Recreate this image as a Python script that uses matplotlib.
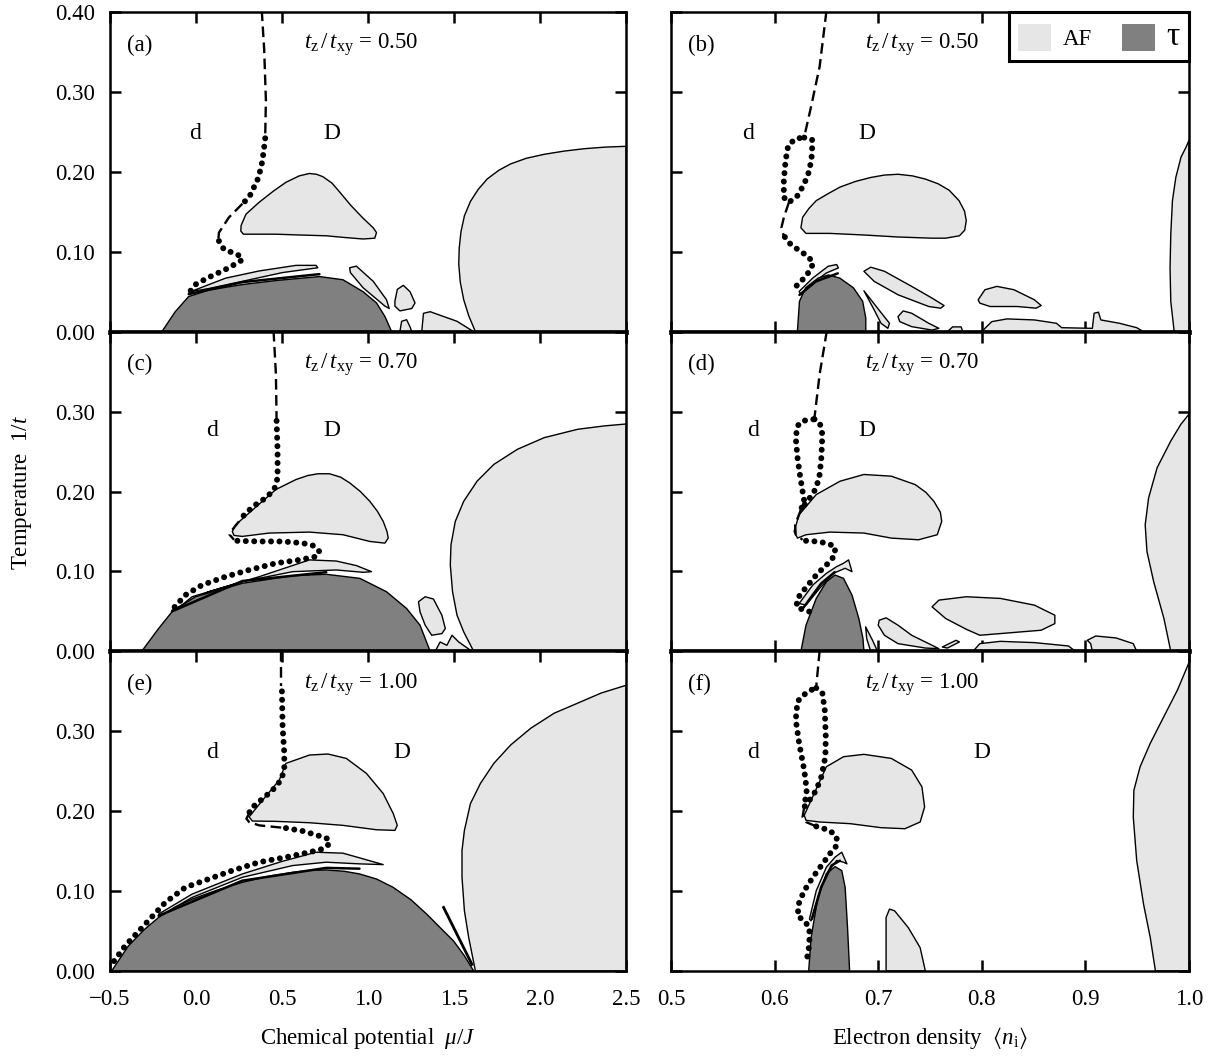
import matplotlib
matplotlib.use("Agg")
import matplotlib.pyplot as plt
from matplotlib.patches import Patch, Polygon

plt.rcParams["font.family"] = ["Liberation Serif", "DejaVu Serif", "DejaVu Sans"]
plt.rcParams["mathtext.fontset"] = "custom"
plt.rcParams["mathtext.rm"] = "Liberation Serif"
plt.rcParams["mathtext.it"] = "Liberation Serif:italic"
plt.rcParams["mathtext.fallback"] = "stix"
plt.rcParams["font.size"] = 16

AF_COLOR = "#e6e6e6"
TAU_COLOR = "#808080"

RATIOS = ["0.50", "0.70", "1.00"]
LETTERS = ["a", "b", "c", "d", "e", "f"]
Y_TICKS = [0.0, 0.1, 0.2, 0.3, 0.4]
MU_TICKS = [-0.5, 0.0, 0.5, 1.0, 1.5, 2.0, 2.5]
N_TICKS = [0.5, 0.6, 0.7, 0.8, 0.9, 1.0]

# ---- panel (a): chemical potential, tz/txy = 0.50 ----
A_TAU = [(-0.199, 0), (-0.121, 0.025), (-0.043, 0.044), (0.074, 0.052), (0.269, 0.059),
         (0.464, 0.064), (0.717, 0.069), (0.854, 0.065), (0.971, 0.050), (1.049, 0.036),
         (1.098, 0.019), (1.137, 0)]
A_EDGE = [(-0.043, 0.047), (0.269, 0.062), (0.717, 0.072)]
A_AF = [
    [(-0.033, 0.050), (0.172, 0.067), (0.367, 0.076), (0.581, 0.083), (0.698, 0.083),
     (0.708, 0.080), (0.503, 0.074), (0.269, 0.063), (0.074, 0.054)],
    [(0.260, 0.126), (0.262, 0.133), (0.290, 0.147), (0.367, 0.162), (0.450, 0.176),
     (0.523, 0.187), (0.600, 0.195), (0.659, 0.198), (0.700, 0.197), (0.737, 0.194),
     (0.790, 0.186), (0.834, 0.175), (0.900, 0.158), (0.971, 0.142), (1.030, 0.130),
     (1.049, 0.124), (1.039, 0.117), (0.971, 0.116), (0.857, 0.118), (0.757, 0.120),
     (0.600, 0.121), (0.464, 0.122), (0.330, 0.122), (0.275, 0.122)],
    [(0.893, 0.080), (0.932, 0.082), (1.030, 0.063), (1.107, 0.040), (1.123, 0.029),
     (1.098, 0.032), (0.971, 0.055), (0.897, 0.074)],
    [(1.156, 0.038), (1.170, 0.053), (1.205, 0.058), (1.244, 0.050), (1.273, 0.036),
     (1.254, 0.029), (1.185, 0.026), (1.156, 0.032)],
    [(1.185, 0), (1.195, 0.013), (1.224, 0.015), (1.244, 0.006), (1.254, 0)],
    [(1.312, 0), (1.322, 0.023), (1.361, 0.025), (1.517, 0.013), (1.614, 0)],
    [(1.624, 0), (1.585, 0.020), (1.556, 0.040), (1.536, 0.062), (1.527, 0.085),
     (1.530, 0.105), (1.540, 0.125), (1.560, 0.145), (1.595, 0.163), (1.640, 0.178),
     (1.692, 0.191), (1.760, 0.202), (1.829, 0.210), (1.920, 0.217), (2.024, 0.222),
     (2.140, 0.226), (2.257, 0.229), (2.380, 0.231), (2.5, 0.232), (2.5, 0)],
]
A_DASH = [
    [(0.382, 0.402), (0.396, 0.353), (0.406, 0.290), (0.402, 0.244)],
    [(0.269, 0.160), (0.191, 0.143), (0.133, 0.124), (0.129, 0.113)],
]
A_DOTS = [
    [(0.402, 0.242), (0.396, 0.231), (0.390, 0.221), (0.382, 0.210), (0.371, 0.200),
     (0.357, 0.190), (0.337, 0.181), (0.318, 0.172), (0.293, 0.165), (0.269, 0.160)],
    [(0.133, 0.1135), (0.162, 0.103), (0.211, 0.099), (0.259, 0.0945), (0.269, 0.090),
     (0.240, 0.086), (0.172, 0.078), (0.074, 0.068), (-0.004, 0.059), (-0.043, 0.048)],
]
A_LABELS = [(-0.008, 0.248), (0.792, 0.248)]

# ---- panel (b): electron density, tz/txy = 0.50 ----
B_TAU = [(0.622, 0), (0.624, 0.038), (0.630, 0.055), (0.642, 0.067), (0.652, 0.071),
         (0.663, 0.067), (0.676, 0.055), (0.685, 0.038), (0.688, 0.017), (0.688, 0)]
B_EDGE = [(0.624, 0.046), (0.640, 0.063), (0.661, 0.073)]
B_AF = [
    [(0.6237, 0.0504), (0.6369, 0.0672), (0.6517, 0.0819), (0.6599, 0.084), (0.6616, 0.0798),
     (0.6500, 0.0735), (0.6369, 0.0609), (0.6254, 0.0462)],
    [(0.6254, 0.130), (0.6270, 0.143), (0.6330, 0.154), (0.6402, 0.164), (0.6520, 0.173),
     (0.6632, 0.181), (0.6780, 0.188), (0.6928, 0.193), (0.7060, 0.196), (0.7191, 0.197),
     (0.7330, 0.195), (0.7455, 0.191), (0.7580, 0.185), (0.7685, 0.177), (0.7780, 0.164),
     (0.7833, 0.151), (0.7850, 0.139), (0.7835, 0.127), (0.7784, 0.120), (0.7650, 0.117),
     (0.7520, 0.117), (0.7191, 0.1185), (0.6862, 0.121), (0.6533, 0.123), (0.6303, 0.123)],
    [(0.6862, 0.0756), (0.6928, 0.0807), (0.7060, 0.0756), (0.7323, 0.0567), (0.7520, 0.042),
     (0.7636, 0.0327), (0.7603, 0.0294), (0.7488, 0.0315), (0.7191, 0.0462), (0.6961, 0.063)],
    [(0.6862, 0.0512), (0.6994, 0.0294), (0.7109, 0.0105), (0.7093, 0.0042), (0.7027, 0.0105),
     (0.6961, 0.0273)],
    [(0.7191, 0.0189), (0.7241, 0.026), (0.7323, 0.0231), (0.7488, 0.0105), (0.7586, 0.0042),
     (0.7520, 0.002), (0.7323, 0.0063), (0.7208, 0.0126)],
    [(0.7668, 0), (0.7718, 0.006), (0.7800, 0.006), (0.7817, 0)],
    [(0.7965, 0.0399), (0.8030, 0.0525), (0.8146, 0.0567), (0.8310, 0.0525), (0.8508, 0.0399),
     (0.8573, 0.0327), (0.8524, 0.0294), (0.8343, 0.0315), (0.8080, 0.0315), (0.7981, 0.0357)],
    [(0.7998, 0), (0.8096, 0.0126), (0.8244, 0.016), (0.8508, 0.0147), (0.8721, 0.0105),
     (0.8771, 0.005), (0.9067, 0.0042), (0.9084, 0.0231), (0.9126, 0.0244), (0.9149, 0.0147),
     (0.9330, 0.0105), (0.9495, 0.005), (0.9561, 0)],
    [(0.9857, 0), (0.9824, 0.0378), (0.9817, 0.0798), (0.9824, 0.1219), (0.9840, 0.1639),
     (0.9873, 0.1933), (0.9923, 0.2185), (0.9972, 0.2311), (1.0, 0.2396), (1.0, 0)],
]
B_DASH = [
    [(0.6500, 0.401), (0.6435, 0.332), (0.6352, 0.2816), (0.6286, 0.2438)],
    [(0.6138, 0.1618), (0.6089, 0.1429), (0.6066, 0.1303), (0.6089, 0.1198)],
]
B_DOTS = [
    [(0.6286, 0.2429), (0.6362, 0.2404), (0.6362, 0.2227), (0.6336, 0.2017), (0.6286, 0.1849),
     (0.6221, 0.1702), (0.6138, 0.1618), (0.6089, 0.1681), (0.6089, 0.1891), (0.6106, 0.2143),
     (0.6132, 0.2333), (0.6204, 0.2417), (0.6286, 0.2429)],
    [(0.6099, 0.1185), (0.6155, 0.1093), (0.6237, 0.1017), (0.6319, 0.0945), (0.6375, 0.0861),
     (0.6336, 0.0756), (0.6286, 0.0672), (0.6221, 0.0588), (0.6188, 0.0538)],
]
B_LABELS = [(0.5744, 0.248), (0.689, 0.248)]

# ---- panel (c): chemical potential, tz/txy = 0.70 ----
C_TAU = [(-0.316, 0), (-0.218, 0.0285), (-0.140, 0.0494), (-0.004, 0.0683), (0.269, 0.0851),
         (0.562, 0.0947), (0.757, 0.0964), (0.952, 0.0913), (1.107, 0.0746), (1.224, 0.0536),
         (1.302, 0.0327), (1.361, 0)]
C_EDGE = [(-0.140, 0.050), (0.269, 0.088), (0.757, 0.099)]
C_AF = [
    [(-0.140, 0.0515), (0.074, 0.0746), (0.367, 0.0934), (0.659, 0.1144), (0.815, 0.113),
     (0.932, 0.1073), (1.020, 0.0997), (0.971, 0.0989), (0.815, 0.1018), (0.562, 0.0997),
     (0.269, 0.0872), (-0.023, 0.0683), (-0.130, 0.0494)],
    [(0.2107, 0.150), (0.2302, 0.1584), (0.3082, 0.1731), (0.4641, 0.2025), (0.5811, 0.215),
     (0.6500, 0.2200), (0.7081, 0.2222), (0.776, 0.2222), (0.840, 0.2180), (0.893, 0.2108),
     (0.955, 0.2000), (1.010, 0.1878), (1.055, 0.1750), (1.0879, 0.1626), (1.110, 0.1500),
     (1.1172, 0.1417), (1.0977, 0.1354), (1.010, 0.1375), (0.854, 0.1459), (0.6591, 0.1492),
     (0.4252, 0.148), (0.2692, 0.1438), (0.2205, 0.145)],
    [(1.293, 0.062), (1.332, 0.0683), (1.380, 0.0654), (1.429, 0.0452), (1.449, 0.0285),
     (1.429, 0.0222), (1.370, 0.0201), (1.332, 0.0327), (1.302, 0.0494)],
    [(1.390, 0), (1.419, 0.0117), (1.458, 0.0075), (1.488, 0.0201), (1.527, 0.0117), (1.604, 0)],
    [(1.614, 0.0), (1.556, 0.0243), (1.517, 0.0452), (1.491, 0.0746), (1.478, 0.1081),
     (1.482, 0.1333), (1.507, 0.1626), (1.556, 0.1878), (1.634, 0.213), (1.731, 0.2339),
     (1.868, 0.2528), (2.024, 0.2674), (2.219, 0.2779), (2.374, 0.2821), (2.5, 0.2845),
     (2.5, 0)],
]
C_DASH = [
    [(0.4505, 0.401), (0.4642, 0.3471), (0.4681, 0.2905)],
    [(0.2497, 0.1626), (0.2107, 0.1521), (0.1951, 0.1459), (0.2205, 0.1396)],
]
C_DOTS = [
    [(0.4681, 0.2884), (0.4739, 0.2507), (0.4739, 0.2171), (0.4544, 0.2025), (0.4057, 0.192),
     (0.3472, 0.1836), (0.2887, 0.1731), (0.2497, 0.1626)],
    [(0.24, 0.1383), (0.3667, 0.1375), (0.5031, 0.1375), (0.6201, 0.1354), (0.6786, 0.1324),
     (0.7175, 0.1249), (0.6981, 0.1186), (0.6006, 0.1144), (0.4641, 0.1102), (0.3082, 0.1018),
     (0.1717, 0.0934), (0.0353, 0.083), (-0.0622, 0.0704), (-0.1499, 0.0494)],
]
C_LABELS = [(0.094, 0.276), (0.792, 0.276)]

# ---- panel (d): electron density, tz/txy = 0.70 ----
D_TAU = [(0.6254, 0), (0.6303, 0.0327), (0.6402, 0.0662), (0.6500, 0.0871), (0.6583, 0.0955),
         (0.6665, 0.0913), (0.6747, 0.0704), (0.6813, 0.0411), (0.6853, 0.0159), (0.6862, 0)]
D_EDGE = [(0.628, 0.055), (0.645, 0.085), (0.658, 0.099)]
D_AF = [
    [(0.6237, 0.0599), (0.6369, 0.083), (0.65, 0.0976), (0.6599, 0.106), (0.6665, 0.1102),
     (0.6714, 0.1144), (0.6747, 0.0997), (0.6681, 0.1039), (0.6566, 0.0976), (0.6435, 0.0788),
     (0.6303, 0.0578)],
    [(0.6188, 0.150), (0.6237, 0.171), (0.6402, 0.1962), (0.6632, 0.2129), (0.6862, 0.2213),
     (0.7126, 0.2192), (0.7356, 0.2087), (0.7460, 0.1990), (0.7537, 0.1878), (0.7600, 0.1740),
     (0.7613, 0.1626), (0.7570, 0.1459), (0.7389, 0.1396), (0.7126, 0.1417), (0.6862, 0.148),
     (0.6533, 0.1492), (0.6303, 0.1459), (0.6221, 0.1417)],
    [(0.752, 0.0557), (0.7586, 0.0641), (0.785, 0.0683), (0.8179, 0.0662), (0.8508, 0.0578),
     (0.8705, 0.0452), (0.8705, 0.0347), (0.8573, 0.0264), (0.8179, 0.0222), (0.7981, 0.0201),
     (0.785, 0.0276), (0.7652, 0.041)],
    [(0.701, 0.0389), (0.7076, 0.0419), (0.7191, 0.0327), (0.7323, 0.0201), (0.7488, 0.0096),
     (0.7586, 0.0033), (0.7455, 0.0041), (0.7191, 0.0096), (0.706, 0.0201), (0.700, 0.0327)],
    [(0.6879, 0.0306), (0.6945, 0.0138), (0.6994, 0), (0.6928, 0), (0.6889, 0.0159)],
    [(0.7619, 0.0054), (0.7751, 0.0138), (0.7784, 0.0117), (0.7668, 0.0041)],
    [(0.7915, 0), (0.7981, 0.0096), (0.8179, 0.0125), (0.8508, 0.0109), (0.8837, 0.0067),
     (0.8903, 0)],
    [(0.9051, 0.0096), (0.9018, 0.0138), (0.910, 0.0192), (0.9297, 0.0167), (0.9462, 0.0096),
     (0.9495, 0), (0.9067, 0)],
    [(0.9824, 0), (0.9758, 0.041), (0.9659, 0.0871), (0.9594, 0.1249), (0.9577, 0.1584),
     (0.9610, 0.192), (0.9692, 0.2297), (0.9824, 0.2632), (0.9922, 0.2842), (1.0, 0.2968),
     (1.0, 0)],
]
D_DASH = [
    [(0.6504, 0.401), (0.6435, 0.3471), (0.6385, 0.2926)],
    [(0.6254, 0.1773), (0.6198, 0.1584), (0.6204, 0.1459), (0.627, 0.1396)],
]
D_DOTS = [
    [(0.6385, 0.2905), (0.6435, 0.2863), (0.6461, 0.2716), (0.6451, 0.2423), (0.6435, 0.2213),
     (0.6402, 0.2045), (0.6352, 0.1941), (0.6303, 0.1857), (0.6254, 0.1773), (0.6286, 0.1878),
     (0.627, 0.2003), (0.6244, 0.2213), (0.6221, 0.2423), (0.6204, 0.2674), (0.6221, 0.2821),
     (0.627, 0.2884), (0.6385, 0.2905)],
    [(0.6303, 0.1383), (0.6402, 0.1375), (0.65, 0.1354), (0.6583, 0.1312), (0.6583, 0.1207),
     (0.6533, 0.1123), (0.6467, 0.1039), (0.6402, 0.0955), (0.6336, 0.0851), (0.627, 0.0746),
     (0.6221, 0.0662), (0.6211, 0.0557), (0.6303, 0.0503), (0.6352, 0.0494)],
]
D_LABELS = [(0.579, 0.276), (0.689, 0.276)]

# ---- panel (e): chemical potential, tz/txy = 1.00 ----
E_TAU = [(-0.491, 0), (-0.394, 0.0312), (-0.300, 0.0520), (-0.218, 0.0669), (-0.120, 0.0800),
         (-0.023, 0.0899), (0.120, 0.1010), (0.269, 0.1109), (0.420, 0.1185), (0.562, 0.1235),
         (0.660, 0.1258), (0.757, 0.1264), (0.860, 0.1248), (0.951, 0.1214), (1.050, 0.1150),
         (1.146, 0.1046), (1.250, 0.0890), (1.341, 0.0711), (1.420, 0.0540), (1.497, 0.0375),
         (1.560, 0.0190), (1.614, 0)]
E_EDGE = [(-0.218, 0.069), (0.269, 0.113), (0.757, 0.129), (0.95, 0.128)]
E_STREAK = [(1.439, 0.0795), (1.604, 0.0082)]
E_AF = [
    [(-0.218, 0.0711), (-0.023, 0.0962), (0.269, 0.1214), (0.503, 0.1373), (0.698, 0.1486),
     (0.854, 0.1474), (0.971, 0.1403), (1.088, 0.1331), (0.952, 0.134), (0.757, 0.1361),
     (0.562, 0.1319), (0.269, 0.1172), (-0.023, 0.092), (-0.208, 0.069)],
    [(0.3082, 0.1927), (0.3862, 0.2136), (0.4836, 0.2388), (0.5226, 0.2598), (0.6591, 0.2702),
     (0.7663, 0.2715), (0.8735, 0.266), (0.9905, 0.2472), (1.0879, 0.222), (1.1464, 0.1969),
     (1.1698, 0.1822), (1.1561, 0.1759), (1.0489, 0.1767), (0.854, 0.1822), (0.6591, 0.1855),
     (0.4641, 0.1872), (0.3277, 0.1876)],
    [(1.624, 0), (1.585, 0.0417), (1.560, 0.0753), (1.546, 0.1172), (1.546, 0.1507),
     (1.560, 0.1759), (1.595, 0.2094), (1.653, 0.2346), (1.731, 0.2598), (1.829, 0.2828),
     (1.946, 0.3038), (2.082, 0.3226), (2.219, 0.3352), (2.355, 0.3478), (2.5, 0.3575),
     (2.5, 0)],
]
E_DASH = [
    [(0.4934, 0.401), (0.4934, 0.3562)],
    [(0.3082, 0.1969), (0.2926, 0.1906), (0.3082, 0.1864), (0.3667, 0.1822), (0.5226, 0.1788)],
]
E_DOTS = [
    [(0.4992, 0.3499), (0.5031, 0.3059), (0.5129, 0.2723), (0.5129, 0.2514), (0.4934, 0.2388),
     (0.4446, 0.2262), (0.3765, 0.2136), (0.318, 0.2031), (0.3082, 0.1969)],
    [(0.5226, 0.1788), (0.6201, 0.1751), (0.7078, 0.1696), (0.7663, 0.1654), (0.776, 0.1591),
     (0.7371, 0.1528), (0.6591, 0.1486), (0.5226, 0.1424), (0.3667, 0.1361), (0.2107, 0.1256),
     (0.0743, 0.1151), (-0.0622, 0.1046), (-0.1791, 0.0857), (-0.2961, 0.0585),
     (-0.4131, 0.0312), (-0.491, 0.0082)],
]
E_LABELS = [(0.094, 0.274), (1.195, 0.274)]

# ---- panel (f): electron density, tz/txy = 1.00 ----
F_TAU = [(0.6329, 0), (0.6352, 0.0417), (0.6418, 0.092), (0.65, 0.1214), (0.6583, 0.1306),
         (0.6648, 0.1256), (0.6681, 0.1046), (0.6704, 0.0543), (0.6724, 0)]
F_EDGE = [(0.636, 0.065), (0.645, 0.105), (0.655, 0.132), (0.663, 0.138)]
F_AF = [
    [(0.6336, 0.0648), (0.6402, 0.1004), (0.65, 0.1298), (0.6583, 0.1424), (0.6648, 0.1486),
     (0.6698, 0.134), (0.6665, 0.1361), (0.6599, 0.1382), (0.65, 0.1214), (0.6418, 0.092),
     (0.6352, 0.0627)],
    [(0.6286, 0.1948), (0.6352, 0.2136), (0.65, 0.2556), (0.6665, 0.2681), (0.6862, 0.2711),
     (0.7126, 0.266), (0.7323, 0.2514), (0.7422, 0.2304), (0.7448, 0.2052), (0.7405, 0.1864),
     (0.7257, 0.178), (0.7027, 0.1793), (0.6731, 0.1843), (0.6435, 0.1864), (0.6303, 0.1885)],
    [(0.7076, 0), (0.7076, 0.0669), (0.7109, 0.0774), (0.7158, 0.0753), (0.729, 0.0543),
     (0.7405, 0.0291), (0.7455, 0)],
    [(0.9676, 0), (0.9626, 0.0417), (0.9561, 0.0837), (0.9495, 0.1382), (0.9462, 0.1927),
     (0.9468, 0.2262), (0.9528, 0.2556), (0.9626, 0.2849), (0.9758, 0.3185), (0.9890, 0.3520),
     (1.0, 0.386), (1.0, 0)],
]
F_DASH = [
    [(0.6435, 0.401), (0.6402, 0.3562)],
    [(0.6286, 0.2052), (0.627, 0.1927), (0.6303, 0.1864), (0.6402, 0.1809)],
]
F_DOTS = [
    [(0.6402, 0.3541), (0.6461, 0.3478), (0.6484, 0.3268), (0.6494, 0.2933), (0.649, 0.2682),
     (0.6451, 0.243), (0.6402, 0.2262), (0.6336, 0.2136), (0.6286, 0.2052), (0.631, 0.2262),
     (0.6286, 0.2514), (0.6237, 0.2849), (0.6204, 0.3143), (0.6221, 0.3373), (0.6319, 0.3499),
     (0.6402, 0.3541)],
    [(0.6402, 0.1809), (0.6533, 0.1759), (0.6599, 0.1675), (0.6599, 0.157), (0.6533, 0.1466),
     (0.6451, 0.1319), (0.6369, 0.1172), (0.6286, 0.1004), (0.6237, 0.0857), (0.6221, 0.069),
     (0.6286, 0.0627), (0.6336, 0.0543), (0.6336, 0.0333), (0.6303, 0.0082)],
]
F_LABELS = [(0.579, 0.274), (0.800, 0.274)]

PANELS = [
    dict(tau=A_TAU, edge=A_EDGE, af=A_AF, dash=A_DASH, dots=A_DOTS, labels=A_LABELS),
    dict(tau=B_TAU, edge=B_EDGE, af=B_AF, dash=B_DASH, dots=B_DOTS, labels=B_LABELS),
    dict(tau=C_TAU, edge=C_EDGE, af=C_AF, dash=C_DASH, dots=C_DOTS, labels=C_LABELS),
    dict(tau=D_TAU, edge=D_EDGE, af=D_AF, dash=D_DASH, dots=D_DOTS, labels=D_LABELS),
    dict(tau=E_TAU, edge=E_EDGE, af=E_AF, dash=E_DASH, dots=E_DOTS, labels=E_LABELS,
         streak=E_STREAK),
    dict(tau=F_TAU, edge=F_EDGE, af=F_AF, dash=F_DASH, dots=F_DOTS, labels=F_LABELS),
]


def xy(points):
    return [p[0] for p in points], [p[1] for p in points]


def draw_panel(ax, panel):
    for shape in panel["af"]:
        ax.add_patch(Polygon(shape, closed=True, facecolor=AF_COLOR, edgecolor="black",
                             linewidth=1.0, joinstyle="round", zorder=2))
    ax.add_patch(Polygon(panel["tau"], closed=True, facecolor=TAU_COLOR, edgecolor="black",
                         linewidth=1.0, joinstyle="round", zorder=3))
    ex, ey = xy(panel["edge"])
    ax.plot(ex, ey, color="black", lw=1.8, solid_capstyle="round", zorder=3)
    if "streak" in panel:
        sx, sy = xy(panel["streak"])
        ax.plot(sx, sy, color="black", lw=2.0, zorder=3)
    for seg in panel["dash"]:
        dx, dy = xy(seg)
        ax.plot(dx, dy, color="black", lw=1.7, linestyle=(0, (4.5, 2.3)), zorder=4)
    for seg in panel["dots"]:
        dx, dy = xy(seg)
        ax.plot(dx, dy, color="black", lw=4.3, linestyle=(0, (0.01, 1.4)),
                dash_capstyle="round", zorder=4)
    (lx, ly), (ux, uy) = panel["labels"]
    ax.text(lx, ly, "d", ha="center", va="center", fontsize=17)
    ax.text(ux, uy, "D", ha="center", va="center", fontsize=17)


fig = plt.figure(figsize=(12.2, 10.57), dpi=100)

lefts = [0.0902, 0.5500]
widths = [0.4230, 0.4246]
bottoms = [0.6862, 0.3838, 0.0814]
height = 0.3024

for i, panel in enumerate(PANELS):
    row, col = divmod(i, 2)
    ax = fig.add_axes([lefts[col], bottoms[row], widths[col], height])
    draw_panel(ax, panel)

    if col == 0:
        ax.set_xlim(-0.5, 2.5)
        ax.set_xticks(MU_TICKS)
    else:
        ax.set_xlim(0.5, 1.0)
        ax.set_xticks(N_TICKS)
    ax.set_ylim(0.0, 0.4)
    ax.set_yticks(Y_TICKS)

    ax.tick_params(direction="in", length=8, width=1.8, top=True, right=True,
                   labelsize=16.5)
    ax.tick_params(axis="x", pad=13)
    ax.tick_params(axis="y", pad=11)
    for side in ["left", "right", "top", "bottom"]:
        ax.spines[side].set_linewidth(1.8)
        ax.spines[side].set_zorder(6)
    if row < 2:
        ax.spines["bottom"].set_linewidth(3.4)
        ax.set_xticklabels([])
    else:
        ax.set_xticklabels(["\u2212%.1f" % abs(t) if t < 0 else "%.1f" % t
                            for t in ax.get_xticks()])
    if col == 0:
        ylabels = ["%.2f" % t for t in Y_TICKS]
        if row > 0:
            ylabels[-1] = ""
        ax.set_yticklabels(ylabels)
    else:
        ax.set_yticklabels([])

    ax.text(0.033, 0.897, "(%s)" % LETTERS[i], transform=ax.transAxes,
            ha="left", va="center", fontsize=16.5)
    ax.text(0.375, 0.897, r"$t_{\mathrm{z}}\,/\,t_{\mathrm{xy}}$ = " + RATIOS[row],
            transform=ax.transAxes, ha="left", va="center", fontsize=16.5)

    if i == 1:
        handles = [Patch(facecolor=AF_COLOR, edgecolor="none", label="AF"),
                   Patch(facecolor=TAU_COLOR, edgecolor="none", label="\u03c4")]
        leg = ax.legend(handles=handles, loc="upper right", ncol=2, borderaxespad=0,
                        fontsize=16.5, handlelength=1.45, handleheight=1.45,
                        handletextpad=0.5, columnspacing=1.3, borderpad=0.4,
                        fancybox=False, framealpha=1.0, edgecolor="black")
        leg.get_frame().set_linewidth(2.2)
        leg.get_texts()[1].set_fontsize(24)
        leg.set_zorder(7)

fig.text(0.018, 0.534, r"Temperature  $1/t$", rotation=90, ha="center", va="center",
         fontsize=16.5)
fig.text(0.3016, 0.012, r"Chemical potential  $\mu/J$", ha="center", va="baseline",
         fontsize=16.5)
fig.text(0.7623, 0.012, r"Electron density  $\langle n_{\mathrm{i}}\rangle$", ha="center",
         va="baseline", fontsize=16.5)

fig.savefig("out.png", dpi=100)
